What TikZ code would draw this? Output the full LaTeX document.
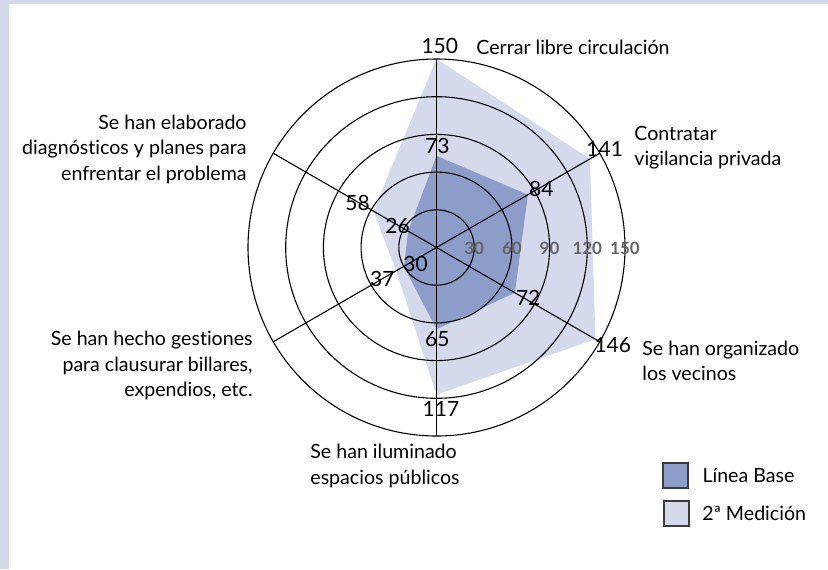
\documentclass[tikz,border=0pt]{standalone}
\usepackage{fontspec}
\setmainfont{Lato}[Ligatures=NoCommon]
\usetikzlibrary{positioning}

\definecolor{baseblue}{RGB}{140,157,201}
\definecolor{medlav}{RGB}{213,217,236}
\definecolor{scalegray}{RGB}{100,100,100}
\definecolor{keyedge}{RGB}{60,60,60}

\newcommand{\rs}{1.2567} % ring scale

\tikzset{
  grid line/.style={line width=0.55pt},
  val/.style={font=\fontsize{10.5}{12}\selectfont, inner sep=0pt, anchor=base},
  cat/.style={font=\fontsize{9.8}{12.75}\selectfont, inner sep=0pt},
  scalelab/.style={font=\fontsize{8.5}{10}\selectfont\bfseries, text=scalegray, inner sep=0pt, anchor=base},
  keybox/.style={draw=keyedge, line width=1pt, minimum width=12.5pt, minimum height=12.5pt, inner sep=0pt}
}

\begin{document}
\begin{tikzpicture}[x=0.5pt,y=0.5pt]
\useasboundingbox (-436.5,-321.5) rectangle (391.5,247.5);
% frame
\fill[medlav] (-436.5,-321.5) rectangle (-427.5,247.5);
\fill[medlav] (-436.5,243.5) rectangle (391.5,247.5);

\coordinate (o) at (0,0);
\foreach \a/\v/\w [count=\i] in {90/73/150, 30/84/141, -30/72/146, -90/65/117, -150/30/37, 150/26/58} {
  \coordinate (ax\i) at (\a:188.5);
  \coordinate (b\i) at (\a:{\v*\rs});
  \coordinate (m\i) at (\a:{\w*\rs});
}

% data
\fill[medlav] (m1) -- (m2) -- (m3) -- (m4) -- (m5) -- (m6) -- cycle;
\fill[baseblue] (b1) -- (b2) -- (b3) -- (b4) -- (b5) -- (b6) -- cycle;

% grid
\foreach \k in {1,...,5}
  \draw[grid line] (o) circle [radius=37.7*\k];
\foreach \i in {1,...,6}
  \draw[grid line] (o) -- (ax\i);

\foreach \k in {30,60,90,120,150}
  \node[scalelab] (s\k) at ({\k*\rs},-6.5) {\k};

% values
\node[val] (vb1) at (0.8,94.2) {73};
\node[val] (vm1) at (3.3,194.2) {150};
\node[val] (vb2) at (104.8,51.5) {84};
\node[val] (vm2) at (168.2,91.5) {141};
\node[val] (vb3) at (91.7,-58.2) {72};
\node[val] (vm3) at (176.3,-105.2) {146};
\node[val] (vb4) at (0.8,-98.5) {65};
\node[val] (vm4) at (4.5,-168.5) {117};
\node[val] (vb5) at (-21,-23.5) {30};
\node[val] (vm5) at (-54.2,-39.2) {37};
\node[val] (vb6) at (-39,14.2) {26};
\node[val] (vm6) at (-79,37.5) {58};

% categories (base = last line)
\node[cat, anchor=base west] (c1) at (39.5,193.2) {Cerrar libre circulación};
\node[cat, anchor=base west, align=left] (c2) at (197.5,81.8) {Contratar\\vigilancia privada};
\node[cat, anchor=base west, align=left] (c3) at (205.5,-133.2) {Se han organizado\\los vecinos};
\node[cat, anchor=base west, align=left] (c4) at (-126.5,-236.8) {Se han iluminado\\espacios públicos};
\node[cat, anchor=base east, align=right] (c5) at (-183.5,-149.2) {Se han hecho gestiones\\para clausurar billares,\\expendios, etc.};
\node[cat, anchor=base east, align=right] (c6) at (-189.5,67.5) {Se han elaborado\\diagnósticos y planes para\\enfrentar el problema};

% legend
\node[keybox, fill=baseblue] (kb) at (238.9,-227.9) {};
\node[keybox, fill=medlav] (km) at (240,-265.9) {};
\node[cat, right=6.6pt of kb] (kbt) {Línea Base};
\node[cat, right=6pt of km] (kmt) {2ª Medición};
\end{tikzpicture}
\end{document}
